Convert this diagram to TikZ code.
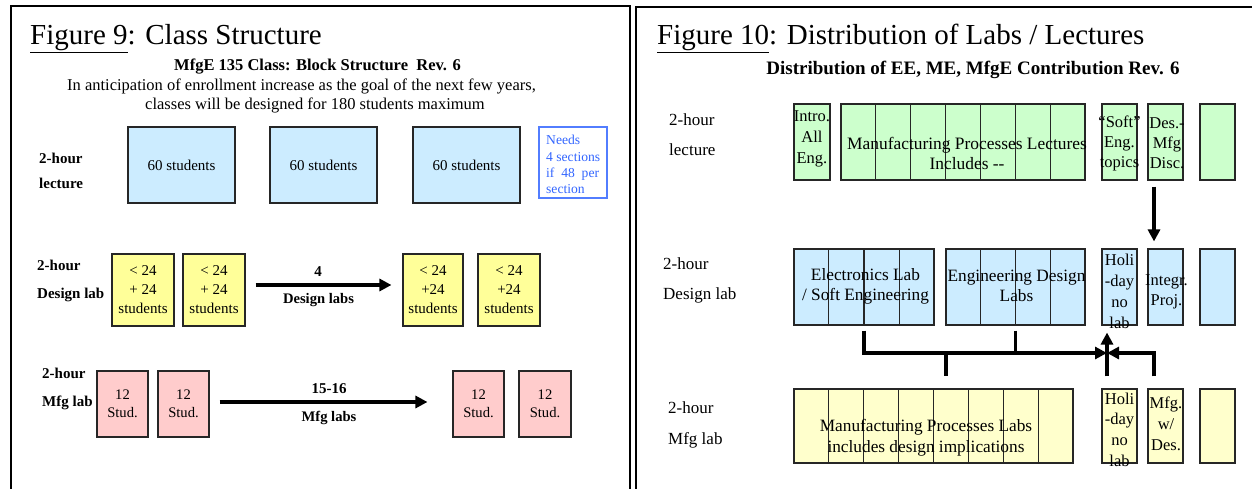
\documentclass[tikz,border=0pt]{standalone}
\usepackage{fontspec}
\setmainfont{Liberation Serif}
\usetikzlibrary{arrows.meta,calc}

\newcommand\sz[2]{\fontsize{#1}{#2}\selectfont}

\definecolor{lecgreen}{HTML}{CCFFCC}
\definecolor{labblue}{HTML}{CCECFF}
\definecolor{mfgyellow}{HTML}{FFFFCC}
\definecolor{desyellow}{HTML}{FFFF99}
\definecolor{mfgpink}{HTML}{FFCCCC}
\definecolor{noteblue}{HTML}{3366FF}

\tikzset{
  panel/.style={line width=2pt},
  cellbox/.style={draw=black!85, line width=1.1pt, inner sep=0pt, rectangle, align=center},
  lecbox/.style={cellbox, fill=labblue, minimum width=107pt, minimum height=76pt},
  desbox/.style={cellbox, fill=desyellow, minimum width=62pt, minimum height=72pt},
  pinkbox/.style={cellbox, fill=mfgpink, minimum width=51pt, minimum height=66pt},
  greenbox/.style={cellbox, fill=lecgreen, minimum height=76pt},
  bluebox/.style={cellbox, fill=labblue, minimum height=76pt},
  lightbox/.style={cellbox, fill=mfgyellow, minimum height=74pt},
  slim/.style={minimum width=35pt},
  txt/.style={inner sep=0pt, align=center},
  rowlbl/.style={inner sep=0pt, align=left, anchor=west},
  conn/.style={line width=3.3pt},
  arr/.style={conn, -{Triangle[length=12pt,width=12pt]}},
}

% dividers splitting a group box into equal cells
\newcommand\cells[2]{%
  \foreach \k in {1,...,\numexpr#2-1\relax}{%
    \draw[line width=1.1pt, black!85]
      ($(#1.north west)!\k/#2!(#1.north east)$) --
      ($(#1.south west)!\k/#2!(#1.south east)$);}}

\begin{document}
\begin{tikzpicture}[x=1pt,y=-1pt]
\useasboundingbox (0,0) rectangle (1252,489);

% ---------------- panel frames ----------------
\draw[panel] (11,489) -- (11,6) -- (630,6) -- (630,489);
\draw[panel] (636,489) -- (636,7) -- (1252,7);

% ================= left panel: class structure =================
\node[anchor=base west, inner sep=0pt, font=\sz{29}{32}] (t9) at (30,45)
  {\underline{Figure 9}: Class Structure};
\node[anchor=base, inner sep=0pt, font=\bfseries\sz{16.5}{18}] (s9) at (317.5,71)
  {MfgE 135 Class: Block Structure\ \ Rev. 6};
\node[anchor=base, inner sep=0pt, font=\sz{16.5}{18}] (a9) at (301.5,91)
  {In anticipation of enrollment increase as the goal of the next few years,};
\node[anchor=base, inner sep=0pt, font=\sz{16.5}{18}] (b9) at (315,110)
  {classes will be designed for 180 students maximum};

% lecture row
\node[rowlbl, font=\bfseries\sz{15}{25}] (l9lec) at (39,170.5) {2-hour\\lecture};
\node[lecbox, font=\sz{15}{18}] (lec1) at (181.5,165) {60 students};
\node[lecbox, font=\sz{15}{18}] (lec2) at (323.5,165) {60 students};
\node[lecbox, font=\sz{15}{18}] (lec3) at (466.5,165) {60 students};
\node[draw=noteblue!85, line width=1.3pt, minimum width=68pt, minimum height=71pt,
      inner sep=0pt] (needs) at (573,162.5) {};
\node[inner sep=0pt, align=left, anchor=west, text=noteblue, font=\sz{13.6}{16.3}]
  (needst) at (546,164.5) {Needs\\4 sections\\if~~48~~per\\section};

% design lab row
\node[rowlbl, font=\bfseries\sz{15}{28}] (l9des) at (37,281) {2-hour\\Design lab};
\node[desbox, font=\sz{15}{19}] (yb1) at (143,290) {< 24\\+ 24\\students};
\node[desbox, font=\sz{15}{19}] (yb2) at (214,290) {< 24\\+ 24\\students};
\node[desbox, font=\sz{15}{19}, minimum width=60pt] (yb3) at (433,290) {< 24\\+24\\students};
\node[desbox, font=\sz{15}{19}] (yb4) at (509,290) {< 24\\+24\\students};
\draw[arr] ([xshift=10pt,yshift=5pt]yb2.east) -- ([xshift=-11pt,yshift=5pt]yb3.west);
\node[txt, font=\bfseries\sz{15}{18}] (n4) at (318,272) {4};
\node[txt, font=\bfseries\sz{14.6}{18}] (n4b) at (318.5,300) {Design labs};

% mfg lab row
\node[rowlbl, font=\bfseries\sz{15}{28}] (l9mfg) at (42,389) {2-hour\\Mfg lab};
\node[pinkbox, font=\sz{14.6}{18}] (pk1) at (122.5,404) {12\\Stud.};
\node[pinkbox, font=\sz{14.6}{18}] (pk2) at (183.5,404) {12\\Stud.};
\node[pinkbox, font=\sz{14.6}{18}] (pk3) at (478.5,404) {12\\Stud.};
\node[pinkbox, font=\sz{14.6}{18}, minimum width=52pt] (pk4) at (545,404) {12\\Stud.};
\draw[arr] ([xshift=10pt,yshift=2pt]pk2.east) -- ([xshift=-25pt,yshift=2pt]pk3.west);
\node[txt, font=\bfseries\sz{15}{18}] (n15) at (329,389) {15-16};
\node[txt, font=\bfseries\sz{14.6}{18}] (n15b) at (329,418) {Mfg labs};

% ================= right panel: distribution =================
\node[anchor=base west, inner sep=0pt, font=\sz{29}{32}] (t10) at (657,45)
  {\underline{Figure 10}: Distribution of Labs / Lectures};
\node[anchor=base, inner sep=0pt, font=\bfseries\sz{19}{21}] (s10) at (973,75)
  {Distribution of EE, ME, MfgE Contribution Rev. 6};

\node[rowlbl, font=\sz{17}{30}] (r10lec) at (669,135) {2-hour\\lecture};
\node[rowlbl, font=\sz{17}{30}] (r10des) at (663,280) {2-hour\\Design lab};
\node[rowlbl, font=\sz{17}{31}] (r10mfg) at (668,424.5) {2-hour\\Mfg lab};

% lecture row
\node[greenbox, minimum width=36pt] (intro) at (812,142) {};
\node[greenbox, minimum width=244pt] (mpl) at (963,142) {};
\cells{mpl}{7}
\node[greenbox, slim] (soft) at (1119.5,142) {};
\node[greenbox, slim] (desm) at (1165.5,142) {};
\node[greenbox, slim] (lece) at (1217.5,142) {};
\node[txt, font=\sz{16.5}{21}] (introt) at (812,139) {Intro.\\All\\Eng.};
\node[txt, font=\sz{17.4}{20}] (mplt) at (967,153) {Manufacturing Processes Lectures\\Includes -{}-};
\node[txt, font=\sz{16.5}{20}] (softt) at (1119.5,143) {“Soft”\\Eng.\\topics};
\node[txt, font=\sz{16.5}{20}] (desmt) at (1167,143) {Des.-\\Mfg\\Disc.};

% design lab row
\node[bluebox, minimum width=140pt] (elec) at (864,287) {};
\cells{elec}{4}
\node[bluebox, minimum width=139pt] (engd) at (1015.5,287) {};
\cells{engd}{4}
\node[bluebox, slim] (holi) at (1119.5,287) {};
\node[bluebox, slim] (integ) at (1165.5,287) {};
\node[bluebox, slim] (dese) at (1217.5,287) {};
\node[txt, font=\sz{17.3}{20}] (elect) at (865.5,286) {Electronics Lab\\/ Soft Engineering};
\node[txt, font=\sz{17.3}{20}] (engdt) at (1016.5,286) {Engineering Design\\Labs};
\node[txt, font=\sz{16.5}{21}] (holit) at (1119.5,291) {Holi\\-day\\no\\lab};
\node[txt, font=\sz{16.5}{20}] (integt) at (1166.5,292) {Integr.\\Proj.};

% mfg lab row
\node[lightbox, minimum width=279pt] (mfgl) at (933.5,426) {};
\cells{mfgl}{8}
\node[lightbox, slim] (holi2) at (1119.5,426) {};
\node[lightbox, slim] (mfgd) at (1165.5,426) {};
\node[lightbox, slim] (mfge) at (1217.5,426) {};
\node[txt, font=\sz{17.3}{21}] (mfglt) at (926,437.5) {Manufacturing Processes Labs\\includes design implications};
\node[txt, font=\sz{16.5}{20.7}] (holi2t) at (1119.5,429.5) {Holi\\-day\\no\\lab};
\node[txt, font=\sz{16.5}{21}] (mfgdt) at (1166,424) {Mfg.\\w/\\Des.};

% connectors
\coordinate (jn) at (1107,353);
\draw[arr] ([xshift=-11.5pt,yshift=-6pt]desm.south) -- ([xshift=-11.5pt,yshift=7pt]integ.north);
\draw[arr] ([yshift=-5pt]elec.south) |- (jn);
\draw[conn] ([yshift=-5pt]engd.south) -- (engd.south |- jn);
\draw[conn] ([xshift=12.5pt]mfgl.north |- jn) -- ([xshift=12.5pt,yshift=12pt]mfgl.north);
\draw[arr] ([xshift=-11.5pt,yshift=12pt]mfgd.north) |- (jn);
\draw[arr] ([xshift=-12.5pt,yshift=12pt]holi2.north) -- ([xshift=-12.5pt,yshift=-7pt]holi.south);

\end{tikzpicture}
\end{document}
